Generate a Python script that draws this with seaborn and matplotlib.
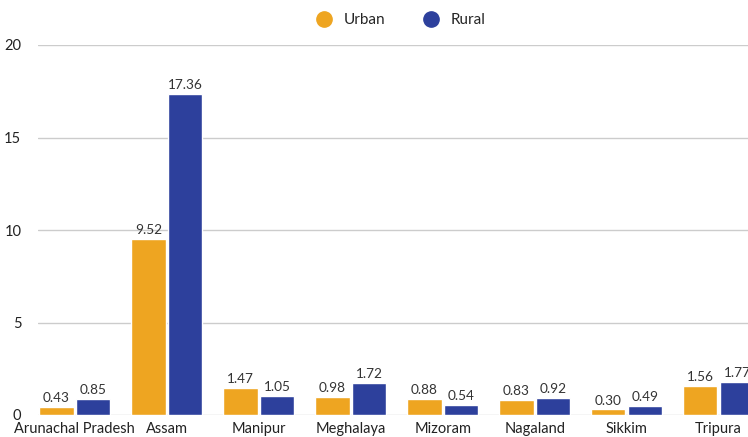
import matplotlib
matplotlib.use("Agg")
import matplotlib.pyplot as plt
import seaborn as sns
import pandas as pd

states = ["Arunachal Pradesh", "Assam", "Manipur", "Meghalaya",
          "Mizoram", "Nagaland", "Sikkim", "Tripura"]
urban = [0.43, 9.52, 1.47, 0.98, 0.88, 0.83, 0.30, 1.56]
rural = [0.85, 17.36, 1.05, 1.72, 0.54, 0.92, 0.49, 1.77]

df = pd.DataFrame({
    "State": states * 2,
    "Value": urban + rural,
    "Area": ["Urban"] * len(states) + ["Rural"] * len(states),
})

sns.set_style("white")
plt.rcParams["font.family"] = ["Lato", "DejaVu Sans"]

fig = plt.figure(figsize=(7.48, 4.37), dpi=100)
ax = fig.add_axes([38 / 748, 22 / 437, 1 - 38 / 748, (415 - 45) / 437])

sns.barplot(data=df, x="State", y="Value", hue="Area",
            palette={"Urban": "#EEA521", "Rural": "#2D409C"},
            saturation=1, width=0.8, gap=0.06, ax=ax, legend=False)

# value labels above every bar
for cont in ax.containers:
    labels = ax.bar_label(cont, fmt="%.2f", padding=2, fontsize=9.8, color="#333333")
    for t in labels:
        t.set_clip_on(True)
        t.set_clip_box(ax.bbox)

ax.set_ylim(0, 20)
ax.set_xlim(-0.4, 7.32)
ax.set_yticks([0, 5, 10, 15, 20])
ax.grid(axis="y", color="#cccccc", linewidth=1)
ax.set_axisbelow(True)
for s in ax.spines.values():
    s.set_visible(False)
ax.tick_params(axis="both", length=0, labelsize=10.5, colors="#222222")
ax.tick_params(axis="y", pad=12)
ax.tick_params(axis="x", pad=5)
ax.set_xlabel("")
ax.set_ylabel("")

handles = [plt.Line2D([], [], marker="o", linestyle="", markersize=11, color=c)
           for c in ["#EEA521", "#2D409C"]]
fig.legend(handles, ["Urban", "Rural"], loc="center", ncol=2,
           bbox_to_anchor=(397 / 748, 1 - 20 / 437), frameon=False,
           fontsize=11, handletextpad=0.3, columnspacing=2.0)

fig.savefig("out.png", dpi=100)
